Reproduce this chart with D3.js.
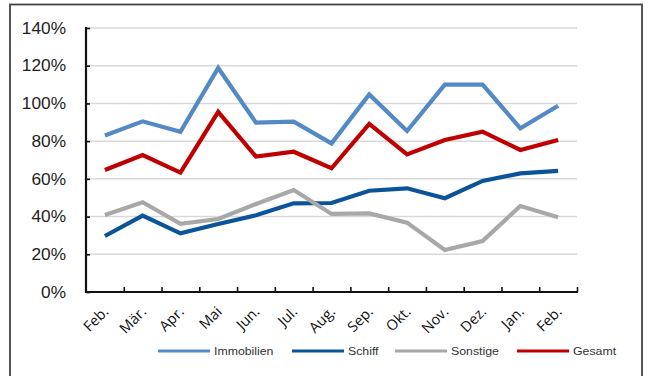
<!DOCTYPE html>
<html><head><meta charset="utf-8">
<script src="https://cdn.jsdelivr.net/npm/d3@7"></script>
<style>body{margin:0;background:#fff;}svg{display:block;}</style>
</head><body>
<svg id="c" width="648" height="376"></svg>
<script>
const categories = ["Feb.","Mär.","Apr.","Mai","Jun.","Jul.","Aug.","Sep.","Okt.","Nov.","Dez.","Jan.","Feb."];
const immobilien = [83, 90.5, 85, 118.8, 89.8, 90.3, 78.8, 104.8, 85.4, 110, 110, 86.8, 98.8];
const schiff     = [29.7, 40.5, 31.1, 36.1, 40.7, 47, 47.2, 53.7, 55, 49.7, 58.9, 62.9, 64.2];
const sonstige   = [40.8, 47.6, 36.1, 38.7, 46.7, 54.1, 41.4, 41.7, 36.8, 22.3, 27, 45.6, 39.6];
const gesamt     = [64.7, 72.6, 63.3, 95.5, 71.8, 74.4, 65.6, 89.1, 73, 80.6, 85, 75.3, 80.6];
const yTicks = [0, 20, 40, 60, 80, 100, 120, 140];
const seriesNames = ["Immobilien", "Schiff", "Sonstige", "Gesamt"];
const seriesColors = ["#5389C5", "#0B5499", "#A8A8A8", "#C00000"];
const seriesData = [immobilien, schiff, sonstige, gesamt];

const svg = d3.select("#c");
// outer frame
svg.append("rect").attr("x", 10).attr("y", 4.5).attr("width", 632).attr("height", 380)
  .attr("fill", "none").attr("stroke", "#444").attr("stroke-width", 1.8);

const x0 = 86, x1 = 577, yTop = 28, yBot = 292;
const x = d3.scaleBand().domain(d3.range(categories.length)).range([x0, x1]).padding(0);
const y = d3.scaleLinear().domain([0, 140]).range([yBot, yTop]);

// gridlines
svg.append("g").selectAll("line").data(yTicks.filter(d => d > 0)).join("line")
  .attr("x1", x0).attr("x2", x1).attr("y1", d => y(d)).attr("y2", d => y(d))
  .attr("stroke", "#D9D9D9").attr("stroke-width", 1.5);

// y axis
const yAxis = d3.axisRight(y).tickValues(yTicks).tickSize(4).tickFormat("").tickSizeOuter(0);
const gy = svg.append("g").attr("transform", `translate(${x0},0)`).call(yAxis);
gy.select(".domain").remove();
gy.selectAll(".tick line").attr("stroke", "#111").attr("stroke-width", 1.6);
gy.append("line").attr("x1", 0).attr("x2", 0).attr("y1", yTop - 1).attr("y2", yBot + 1)
  .attr("stroke", "#111").attr("stroke-width", 2.2);
svg.append("g").selectAll("text").data(yTicks).join("text")
  .attr("transform", d => `translate(66,${y(d)}) scale(1.08,1)`)
  .attr("dy", "0.36em").attr("text-anchor", "end")
  .attr("font-family", "Liberation Sans, Arial, sans-serif").attr("font-size", 16).attr("fill", "#222")
  .text(d => d + "%");

// x axis
const xb = d3.scaleLinear().domain([0, categories.length]).range([x0, x1]);
const xAxis = d3.axisTop(xb).tickValues(d3.range(1, categories.length + 1)).tickSize(5).tickFormat("").tickSizeOuter(0);
const gx = svg.append("g").attr("transform", `translate(0,${yBot})`).call(xAxis);
gx.select(".domain").remove();
gx.selectAll(".tick line").attr("stroke", "#111").attr("stroke-width", 1.6);
gx.append("line").attr("x1", x0 - 1).attr("x2", x1 + 1).attr("y1", 0).attr("y2", 0)
  .attr("stroke", "#111").attr("stroke-width", 2.2);

svg.append("g").selectAll("text").data(categories).join("text")
  .attr("transform", (d, i) => `translate(${x(i) + x.bandwidth() / 2 + 1},${yBot + 17}) rotate(-45)`)
  .attr("text-anchor", "end").attr("dy", "0.35em")
  .attr("font-family", "Open Sans, DejaVu Sans, sans-serif").attr("font-size", 14.5).attr("fill", "#111")
  .text(d => d);

// lines
const line = d3.line().x((d, i) => x(i) + x.bandwidth() / 2).y(d => y(d));
svg.append("g").selectAll("path").data(seriesData).join("path")
  .attr("d", d => line(d)).attr("fill", "none")
  .attr("stroke", (d, i) => seriesColors[i]).attr("stroke-width", 4.2)
  .attr("stroke-linejoin", "miter").attr("stroke-linecap", "butt");

// legend
const legX = [158, 292, 395, 517];
const lg = svg.append("g").selectAll("g").data(seriesNames).join("g")
  .attr("transform", (d, i) => `translate(${legX[i]},351)`);
lg.append("line").attr("x1", 0).attr("x2", 52).attr("y1", 0).attr("y2", 0)
  .attr("stroke", (d, i) => seriesColors[i]).attr("stroke-width", 3);
lg.append("text").attr("transform", "translate(56,0) scale(1.12,1)").attr("dy", "0.35em")
  .attr("font-family", "Liberation Sans, Arial, sans-serif").attr("font-size", 11).attr("fill", "#333")
  .text(d => d);
</script>
</body></html>
